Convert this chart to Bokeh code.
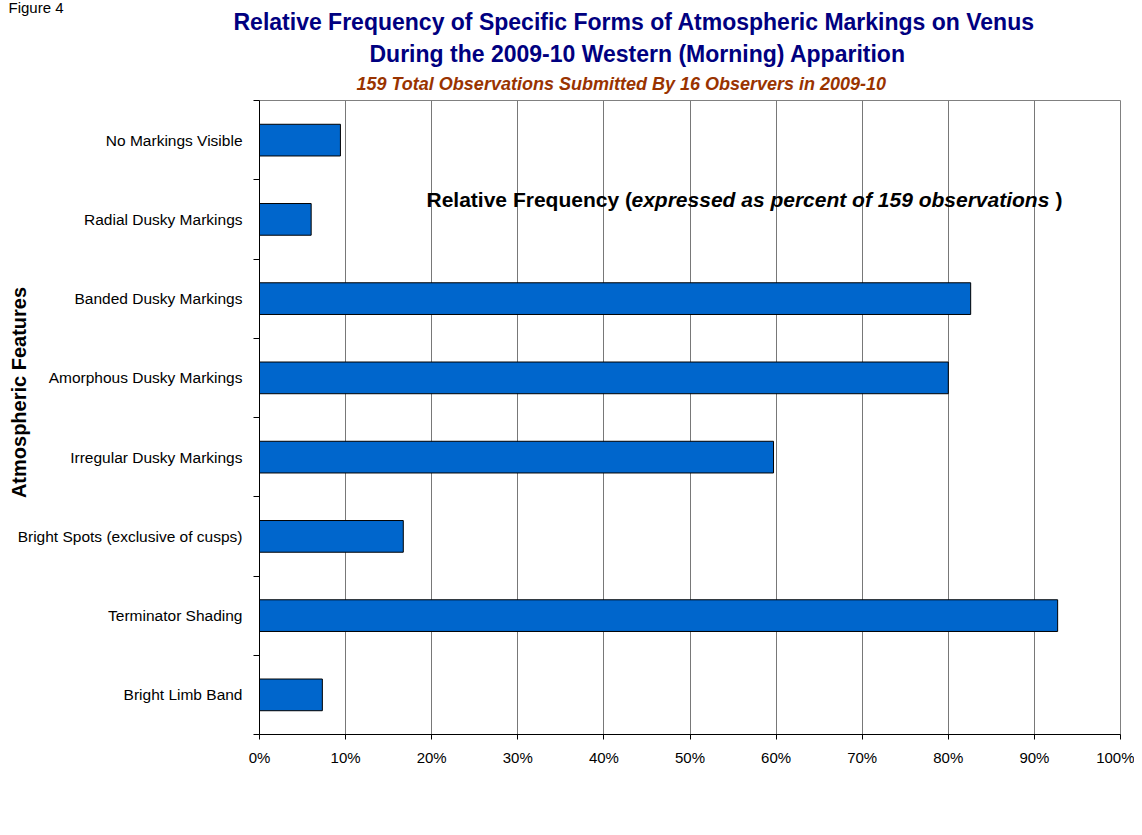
from bokeh.plotting import figure
from bokeh.models import Range1d, FixedTicker, PrintfTickFormatter, Label, Title
from bokeh.embed import file_html
from bokeh.resources import INLINE

# ---------------- data (top to bottom as shown) ----------------
features = [
    "No Markings Visible",
    "Radial Dusky Markings",
    "Banded Dusky Markings",
    "Amorphous Dusky Markings",
    "Irregular Dusky Markings",
    "Bright Spots (exclusive of cusps)",
    "Terminator Shading",
    "Bright Limb Band",
]
percent = [9.4, 6.0, 82.6, 80.0, 59.7, 16.7, 92.7, 7.3]
x_ticks = [0, 10, 20, 30, 40, 50, 60, 70, 80, 90, 100]

title1 = "Relative Frequency of Specific Forms of Atmospheric Markings on Venus"
title2 = "During the 2009-10 Western (Morning) Apparition"
subtitle = "159 Total Observations Submitted By 16 Observers in 2009-10"
y_title = "Atmospheric Features"
note_a = "Relative Frequency ("
note_b = "expressed as percent of 159 observations"
note_c = ")"
fig_label = "Figure 4"

FONT = "Liberation Sans"
n = len(features)
ypos = [n - i - 0.5 for i in range(n)]

W, H = 1134, 827
FL, FR, FT, FB = 259, 1120, 100, 734   # plot-area edges in canvas pixels

p = figure(width=W, height=H, output_backend="svg", toolbar_location=None,
           x_range=Range1d(0, 100), y_range=Range1d(0, n),
           min_border_left=FL, min_border_right=W - FR,
           min_border_top=FT, min_border_bottom=H - FB,
           background_fill_color="white", border_fill_color="white")
p.title.visible = False

p.outline_line_color = "#808080"
p.outline_line_width = 1

# bars
p.hbar(y=ypos, right=percent, left=0, height=0.4,
       fill_color="#0066CC", line_color="black", line_width=1)

# x axis
xa = p.xaxis[0]
xa.ticker = FixedTicker(ticks=x_ticks)
xa.formatter = PrintfTickFormatter(format="%d%%")
xa.major_tick_out = 5
xa.major_tick_in = 0
xa.minor_tick_out = 0
xa.minor_tick_in = 0
xa.axis_line_color = "black"
xa.major_tick_line_color = "black"
xa.major_label_text_font = FONT
xa.major_label_text_font_size = "15px"
xa.major_label_text_color = "black"
xa.major_label_standoff = 9

# y axis: labels at category centres, ticks at category boundaries
ya = p.yaxis[0]
ya.ticker = FixedTicker(ticks=ypos, minor_ticks=list(range(n + 1)))
ya.major_label_overrides = {y: f for y, f in zip(ypos, features)}
ya.major_tick_out = 0
ya.major_tick_in = 0
ya.minor_tick_out = 6
ya.minor_tick_in = 0
ya.minor_tick_line_color = "black"
ya.axis_line_color = "black"
ya.major_label_text_font = FONT
ya.major_label_text_font_size = "15.5px"
ya.major_label_text_color = "black"
ya.major_label_standoff = 11
# axis title: leading no-break spaces move it up, as in the original
ya.axis_label = "\u00a0" * 9 + y_title
ya.axis_label_text_font = FONT
ya.axis_label_text_font_size = "20px"
ya.axis_label_text_font_style = "bold"
ya.axis_label_text_color = "black"
ya.axis_label_standoff = -15

# grid
p.xgrid.ticker = FixedTicker(ticks=x_ticks)
p.xgrid.grid_line_color = "#787878"
p.xgrid.grid_line_width = 1
p.ygrid.grid_line_color = None

# ---- titles (stacked above the plot area, nearest first) ----
p.add_layout(Title(text=subtitle, align="left", offset=356 - FL,
                   vertical_align="bottom", standoff=14,
                   text_font=FONT, text_font_size="18px",
                   text_font_style="bold italic", text_color="#993300"), "above")
p.add_layout(Title(text=title2, align="left", offset=369 - FL,
                   vertical_align="bottom", standoff=-5,
                   text_font=FONT, text_font_size="23px",
                   text_font_style="bold", text_color="#000080"), "above")
p.add_layout(Title(text=title1, align="left", offset=233 - FL,
                   vertical_align="top", standoff=10,
                   text_font=FONT, text_font_size="23px",
                   text_font_style="bold", text_color="#000080"), "above")

# "Figure 4" caption: a label in a panel under the x axis, drawn at the top-left
fig_lab = Label(x=8 - FL, y=790 - 12, x_units="screen", y_units="screen",
                text=fig_label, text_font=FONT, text_font_size="15px",
                text_color="black", text_align="left", text_baseline="alphabetic")
p.add_layout(fig_lab, "below")

# ---- note inside the plot area ----
def note(text, X, style, align="left"):
    p.add_layout(Label(x=X - FL, y=FB - 199, x_units="screen", y_units="screen",
                       text=text, text_font=FONT, text_font_size="21px",
                       text_font_style=style, text_color="black",
                       text_align=align, text_baseline="alphabetic"))

note(note_a, 426, "bold")
note(note_b, 631, "bold italic")
note(note_c, 1055, "bold")

open("out.html", "w").write(file_html(p, INLINE))
